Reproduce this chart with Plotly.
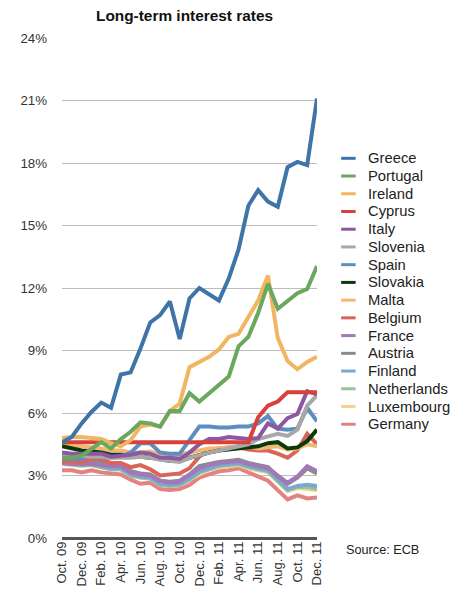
import plotly.graph_objects as go

# Monthly long-term interest rates (%), Oct. 09 - Dec. 11
months = [
    'Oct. 09', 'Nov. 09', 'Dec. 09', 'Jan. 10', 'Feb. 10', 'Mar. 10', 'Apr. 10',
    'May. 10', 'Jun. 10', 'Jul. 10', 'Aug. 10', 'Sep. 10', 'Oct. 10', 'Nov. 10',
    'Dec. 10', 'Jan. 11', 'Feb. 11', 'Mar. 11', 'Apr. 11', 'May. 11', 'Jun. 11',
    'Jul. 11', 'Aug. 11', 'Sep. 11', 'Oct. 11', 'Nov. 11', 'Dec. 11',
]

greece = [4.6, 4.85, 5.5, 6.05, 6.5, 6.25, 7.85, 7.95, 9.1, 10.35, 10.7, 11.35, 9.55, 11.5,
          12.0, 11.7, 11.4, 12.45, 13.85, 15.95, 16.7, 16.15, 15.9, 17.8, 18.05, 17.9, 21.1]
portugal = [3.85, 3.85, 3.95, 4.25, 4.6, 4.3, 4.75, 5.1, 5.55, 5.5, 5.35, 6.1, 6.1, 6.95,
            6.55, 6.95, 7.35, 7.75, 9.2, 9.65, 10.8, 12.2, 11.0, 11.35, 11.75, 11.95, 13.05]
ireland = [4.8, 4.85, 4.85, 4.8, 4.75, 4.55, 4.4, 4.7, 5.35, 5.45, 5.35, 6.1, 6.45, 8.2,
           8.45, 8.7, 9.05, 9.65, 9.8, 10.6, 11.4, 12.6, 9.6, 8.5, 8.1, 8.45, 8.7]
cyprus = [4.6, 4.6, 4.6, 4.6, 4.6, 4.6, 4.6, 4.6, 4.6, 4.6, 4.6, 4.6, 4.6, 4.6,
          4.6, 4.6, 4.6, 4.6, 4.6, 4.6, 5.8, 6.35, 6.55, 7.0, 7.0, 7.0, 7.0]
italy = [4.1, 4.05, 4.05, 4.05, 4.05, 3.9, 3.95, 4.0, 4.1, 4.05, 3.85, 3.85, 3.8, 4.1,
         4.5, 4.75, 4.75, 4.85, 4.8, 4.75, 4.8, 5.5, 5.25, 5.75, 5.95, 7.05, 6.9]
slovenia = [4.0, 3.95, 3.95, 3.9, 3.9, 3.85, 3.85, 3.85, 3.9, 3.85, 3.75, 3.7, 3.65, 3.85,
            4.0, 4.1, 4.2, 4.3, 4.4, 4.5, 4.75, 4.9, 5.0, 4.9, 5.2, 6.35, 6.85]
spain = [3.8, 3.8, 3.8, 4.0, 3.95, 3.85, 3.9, 4.1, 4.55, 4.55, 4.1, 4.05, 4.05, 4.7,
         5.35, 5.35, 5.3, 5.3, 5.35, 5.35, 5.5, 5.85, 5.25, 5.2, 5.25, 6.25, 5.6]
slovakia = [4.4, 4.3, 4.2, 4.15, 4.1, 4.0, 4.0, 3.95, 3.9, 3.85, 3.8, 3.7, 3.7, 3.85,
            4.0, 4.1, 4.2, 4.25, 4.3, 4.35, 4.4, 4.55, 4.6, 4.3, 4.35, 4.65, 5.2]
malta = [4.45, 4.4, 4.4, 4.35, 4.3, 4.2, 4.2, 4.1, 4.1, 4.15, 4.0, 4.0, 4.0, 4.1,
         4.2, 4.3, 4.3, 4.35, 4.4, 4.4, 4.3, 4.35, 4.4, 4.25, 4.3, 4.5, 4.4]
belgium = [3.65, 3.7, 3.65, 3.8, 3.8, 3.6, 3.6, 3.4, 3.5, 3.3, 3.0, 3.05, 3.1, 3.35,
           3.9, 4.25, 4.3, 4.35, 4.35, 4.25, 4.2, 4.2, 4.05, 3.85, 4.2, 5.0, 4.5]
france = [3.6, 3.55, 3.55, 3.55, 3.5, 3.45, 3.45, 3.15, 3.05, 3.0, 2.75, 2.65, 2.7, 3.0,
          3.35, 3.5, 3.6, 3.65, 3.7, 3.55, 3.45, 3.35, 3.0, 2.65, 2.95, 3.45, 3.2]
austria = [3.75, 3.7, 3.65, 3.7, 3.65, 3.5, 3.5, 3.2, 3.1, 3.05, 2.75, 2.7, 2.75, 3.05,
           3.45, 3.55, 3.65, 3.7, 3.75, 3.6, 3.5, 3.4, 2.95, 2.6, 2.9, 3.35, 3.1]
finland = [3.6, 3.55, 3.5, 3.55, 3.45, 3.35, 3.35, 3.05, 2.95, 2.9, 2.6, 2.55, 2.6, 2.85,
           3.2, 3.35, 3.5, 3.55, 3.6, 3.45, 3.35, 3.25, 2.8, 2.35, 2.5, 2.55, 2.5]
netherlands = [3.6, 3.55, 3.5, 3.5, 3.4, 3.3, 3.3, 3.0, 2.9, 2.85, 2.55, 2.5, 2.55, 2.8,
               3.15, 3.3, 3.45, 3.5, 3.55, 3.4, 3.3, 3.2, 2.75, 2.3, 2.45, 2.45, 2.35]
luxembourg = [3.55, 3.5, 3.45, 3.5, 3.4, 3.3, 3.3, 3.0, 2.9, 2.85, 2.55, 2.5, 2.55, 2.8,
              3.1, 3.3, 3.4, 3.45, 3.5, 3.35, 3.25, 3.15, 2.7, 2.25, 2.4, 2.35, 2.3]
germany = [3.25, 3.25, 3.15, 3.25, 3.15, 3.1, 3.05, 2.8, 2.6, 2.65, 2.35, 2.3, 2.35, 2.55,
           2.9, 3.05, 3.2, 3.25, 3.35, 3.15, 2.95, 2.75, 2.3, 1.85, 2.05, 1.9, 1.95]

countries = [
    ('Greece', greece, '#3f74a8'),
    ('Portugal', portugal, '#6aa85e'),
    ('Ireland', ireland, '#f2b562'),
    ('Cyprus', cyprus, '#d8413b'),
    ('Italy', italy, '#8d58a2'),
    ('Slovenia', slovenia, '#a8a8a8'),
    ('Spain', spain, '#5b8fbf'),
    ('Slovakia', slovakia, '#0a3a0a'),
    ('Malta', malta, '#f5b670'),
    ('Belgium', belgium, '#d9645a'),
    ('France', france, '#a478b8'),
    ('Austria', austria, '#8a8a8a'),
    ('Finland', finland, '#7ba7d2'),
    ('Netherlands', netherlands, '#95c596'),
    ('Luxembourg', luxembourg, '#f2d48c'),
    ('Germany', germany, '#e38282'),
]

font_family = 'Liberation Sans, Arial, sans-serif'

# the page body adds an 8px offset, so the figure is 8px smaller than the window
W, H = 451, 592
L, R, T, B = 45, 142, 30, 62
plot_w = W - L - R
plot_h = H - T - B


def px_x(x):
    return (x - L) / plot_w


def px_y(y):
    return (H - B - y) / plot_h


fig = go.Figure()

# draw bottom of list first so Greece etc. sit on top
for name, vals, color in reversed(countries):
    fig.add_trace(go.Scatter(
        x=months,
        y=vals,
        name=name,
        mode='lines',
        line=dict(color=color, width=4),
        showlegend=False,
    ))

# hand made legend (plotly's minimum row height is too tall here)
row_gap = 17.73
for i, (name, vals, color) in enumerate(countries):
    y = px_y(150.3 + i * row_gap)
    fig.add_shape(
        type='line', xref='paper', yref='paper',
        x0=px_x(334), x1=px_x(349), y0=y, y1=y,
        line=dict(color=color, width=3),
    )
    fig.add_annotation(
        text=name, xref='paper', yref='paper',
        x=px_x(360), y=y, xanchor='left', yanchor='middle',
        showarrow=False,
        font=dict(size=14.8, color='#222222'),
    )

fig.add_annotation(
    text='Source: ECB',
    xref='paper', yref='paper',
    x=px_x(337), y=px_y(542),
    xanchor='left', yanchor='middle',
    showarrow=False,
    font=dict(size=12.7, color='#222222'),
)

fig.update_layout(
    width=W,
    height=H,
    margin=dict(l=L, r=R, t=T, b=B),
    paper_bgcolor='white',
    plot_bgcolor='white',
    font=dict(family=font_family, color='#222222', size=13),
    title=dict(
        text='<b>Long-term interest rates</b>',
        x=176.5 / W,
        xanchor='center',
        xref='container',
        y=1 - 8 / H,
        yanchor='middle',
        font=dict(size=15.4, color='#111111'),
    ),
    xaxis=dict(
        type='category',
        range=[0, len(months) - 1],
        tickmode='array',
        tickvals=months[::2],
        ticktext=months[::2],
        tickangle=-90,
        tickfont=dict(size=13, color='#333333'),
        showgrid=False,
        showline=False,
        ticks='',
        zeroline=False,
    ),
    yaxis=dict(
        range=[0, 24],
        tickvals=[0, 3, 6, 9, 12, 15, 18, 21, 24],
        ticktext=['0%', '3%', '6%', '9%', '12%', '15%', '18%', '21%', '24%'],
        tickfont=dict(size=13.3, color='#333333'),
        showgrid=True,
        gridcolor='#bdbdbd',
        gridwidth=1,
        zeroline=True,
        zerolinecolor='#555555',
        zerolinewidth=2.5,
        showline=False,
        ticks='',
        ticklabelstandoff=14,
    ),
    showlegend=False,
)

fig.write_html('out.html')
